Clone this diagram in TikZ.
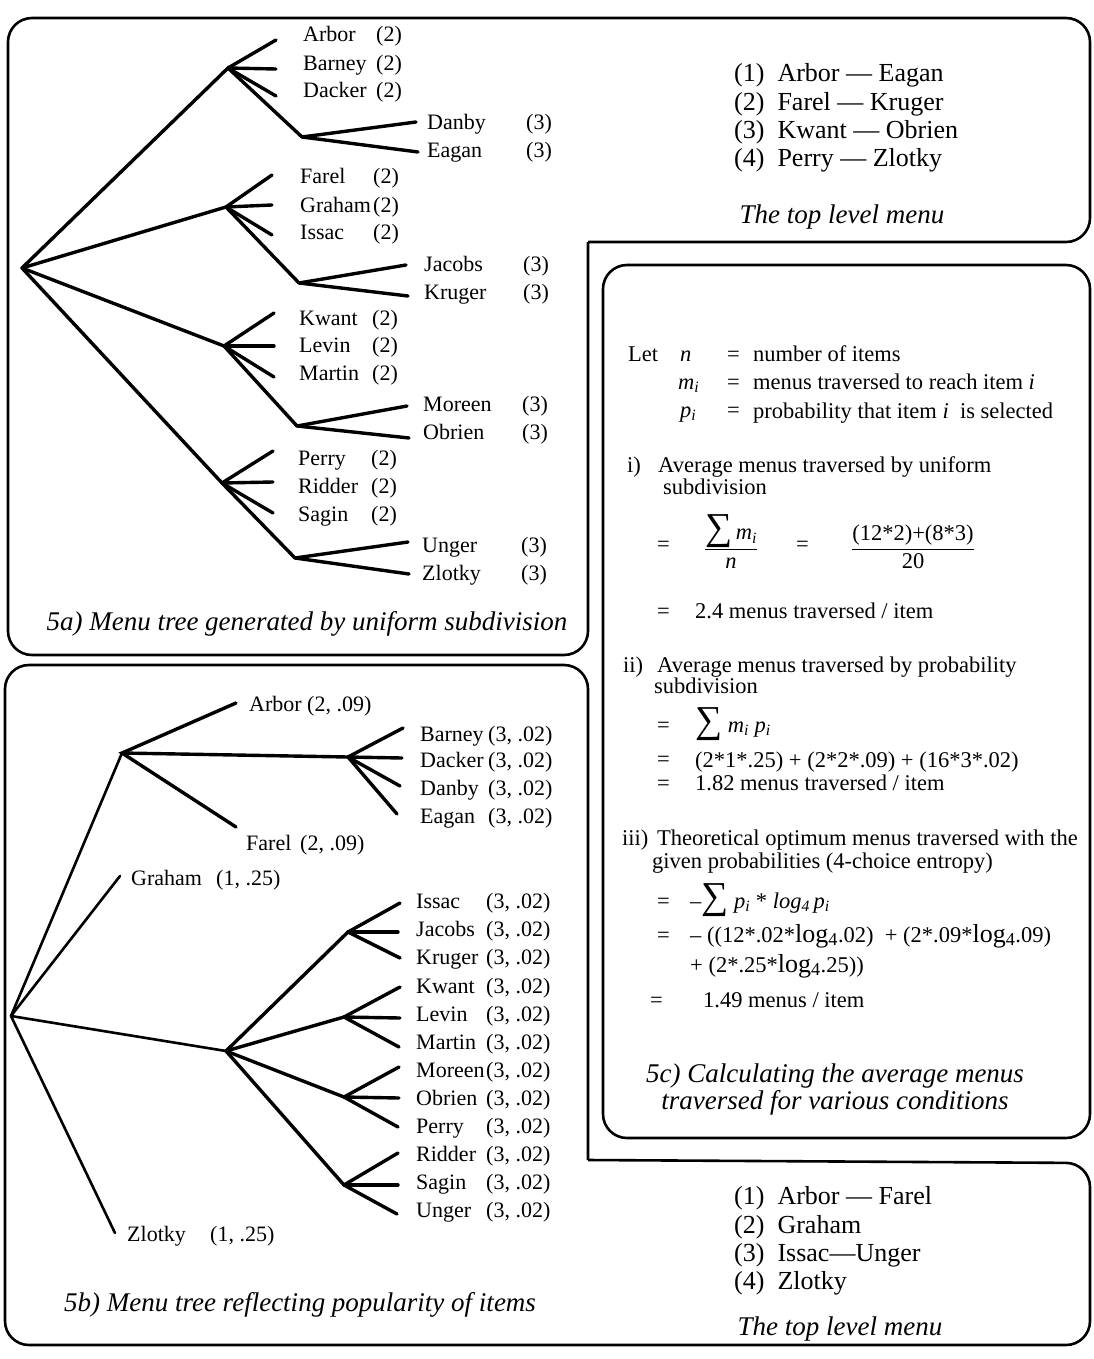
\documentclass[tikz,border=0pt]{standalone}
\usepackage{fontspec}
\setmainfont{Liberation Serif}
\usepackage{tikz}
\usetikzlibrary{positioning}
\newcommand{\vari}[2]{\textit{#1}\textsubscript{\textit{#2}}}
\newcommand{\logf}{{\fontsize{26}{26}\selectfont log\textsubscript{4}}}
\newcommand{\bigsum}{{\fontsize{38}{38}\selectfont ∑}}

\begin{document}
\begin{tikzpicture}[x=1pt, y=-1pt,
    frame/.style={line width=2.6pt, rounded corners=24pt},
    branch/.style={line width=3.4pt, line cap=round},
    limb/.style={line width=2.6pt, line cap=round},
    txt/.style={font=\fontsize{22.5}{26}\selectfont, inner sep=0pt},
    calc/.style={txt, anchor=west, text height=15pt, text depth=5pt},
    leaf/.style={calc, font=\fontsize{22}{26}\selectfont},
    menu/.style={font=\fontsize{26}{28.3}\selectfont, inner sep=0pt,
      anchor=west, align=left},
    caption/.style={font=\fontsize{27}{27}\selectfont\itshape,
      inner sep=0pt, align=center},
  ]
  \useasboundingbox (0,0) rectangle (1093,1359);

  % Frames
  \draw[frame] (588,242) -- (588,655) -- (8,655) -- (8,18) -- (1090,18)
    -- (1090,242) -- (588,242);
  \draw[frame] (588,1160) -- (588,665) -- (5,665) -- (5,1345) -- (1090,1345)
    -- (1090,1163) -- (588,1160);
  \draw[frame] (603,265) rectangle (1090,1138);

  % 5a: tree by uniform subdivision
  \coordinate (uni-root) at (22,268);
  \coordinate (uni-g1) at (228,68);
  \coordinate (uni-g2) at (226,207);
  \coordinate (uni-g3) at (224,346);
  \coordinate (uni-g4) at (222,483);
  \coordinate (uni-s1) at (302,137);
  \coordinate (uni-s2) at (299,283);
  \coordinate (uni-s3) at (297,426);
  \coordinate (uni-s4) at (295,558);
  \foreach \g in {1,...,4}
    \draw[branch] (uni-root) -- (uni-g\g) -- (uni-s\g);
  \foreach \n/\g/\x/\y in {arbor/1/276/40, barney/1/276/69, dacker/1/276/96,
      farel/2/272/175, graham/2/272/205, issac/2/272/235,
      kwant/3/274/313, levin/3/274/346, martin/3/274/377,
      perry/4/273/451, ridder/4/273/482, sagin/4/273/513} {
    \coordinate (uni-\n) at (\x,\y);
    \draw[branch] (uni-g\g) -- (uni-\n);
  }
  \foreach \n/\g/\x/\y in {danby/1/416/122, eagan/1/418/152,
      jacobs/2/406/265, kruger/2/408/296, moreen/3/407/406,
      obrien/3/409/438, unger/4/408/542, zlotky/4/409/574} {
    \coordinate (uni-\n) at (\x,\y);
    \draw[branch] (uni-s\g) -- (uni-\n);
  }
  \foreach \n/\lbl/\x/\y in {arbor/Arbor/303/37, barney/Barney/303/66,
      dacker/Dacker/303/93, farel/Farel/300/178, graham/Graham/300/207,
      issac/Issac/300/234, kwant/Kwant/299/320, levin/Levin/299/347,
      martin/Martin/299/375, perry/Perry/298/460, ridder/Ridder/298/488,
      sagin/Sagin/298/516}
    \node[leaf] (uni-\n-lbl) at (\x,\y) {\makebox[73pt][l]{\lbl}(2)};
  \foreach \n/\lbl/\x/\y in {danby/Danby/427/125, eagan/Eagan/427/153,
      jacobs/Jacobs/424/266, kruger/Kruger/424/294, moreen/Moreen/423/406,
      obrien/Obrien/423/434, unger/Unger/422/547, zlotky/Zlotky/422/575}
    \node[leaf] (uni-\n-lbl) at (\x,\y) {\makebox[99pt][l]{\lbl}(3)};
  \node[caption] (uni-cap) at (307,624)
    {5a) Menu tree generated by uniform subdivision};

  % Top level menu (uniform)
  \node[menu] (uni-menu) at (734,118) {(1)\ \ Arbor --- Eagan\\
    (2)\ \ Farel --- Kruger\\(3)\ \ Kwant --- Obrien\\(4)\ \ Perry --- Zlotky};
  \node[caption] (uni-menu-cap) at (842,217) {The top level menu};

  % 5b: tree reflecting popularity
  \coordinate (pop-root) at (11,1016);
  \coordinate (pop-b) at (122,753);
  \coordinate (pop-c) at (348,757);
  \coordinate (pop-d) at (226,1051);
  \coordinate (pop-e1) at (348,932);
  \coordinate (pop-e2) at (344,1017);
  \coordinate (pop-e3) at (344,1097);
  \coordinate (pop-e4) at (344,1185);
  \coordinate (pop-arbor) at (236,703);
  \coordinate (pop-farel) at (236,827);
  \coordinate (pop-graham) at (120,876);
  \coordinate (pop-zlotky) at (115,1233);
  \draw[limb] (pop-root) -- (pop-b);
  \draw[limb] (pop-root) -- (pop-graham);
  \draw[limb] (pop-root) -- (pop-d);
  \draw[limb] (pop-root) -- (pop-zlotky);
  \draw[branch] (pop-arbor) -- (pop-b) -- (pop-farel);
  \draw[branch] (pop-b) -- (pop-c);
  \foreach \e in {1,...,4}
    \draw[branch] (pop-d) -- (pop-e\e);
  \foreach \n/\g/\x/\y in {barney/c/403/728, dacker/c/402/758,
      danby/c/400/786, eagan/c/397/814,
      issac/e1/400/903, jacobs/e1/398/932, kruger/e1/400/958,
      kwant/e2/400/987, levin/e2/400/1018, martin/e2/399/1047,
      moreen/e3/399/1067, obrien/e3/399/1098, perry/e3/398/1127,
      ridder/e4/398/1153, sagin/e4/398/1185, unger/e4/397/1214} {
    \coordinate (pop-\n) at (\x,\y);
    \draw[branch] (pop-\g) -- (pop-\n);
  }
  \node[leaf] (pop-arbor-lbl) at (249,706) {Arbor (2, .09)};
  \node[leaf] (pop-farel-lbl) at (246,845) {\makebox[54pt][l]{Farel}(2, .09)};
  \node[leaf] (pop-graham-lbl) at (131,880) {\makebox[85pt][l]{Graham}(1, .25)};
  \node[leaf] (pop-zlotky-lbl) at (127,1236) {\makebox[83pt][l]{Zlotky}(1, .25)};
  \foreach \n/\lbl/\y in {barney/Barney/736, dacker/Dacker/762,
      danby/Danby/790, eagan/Eagan/818}
    \node[leaf] (pop-\n-lbl) at (420,\y) {\makebox[68pt][l]{\lbl}(3, .02)};
  \foreach \n/\lbl/\y in {issac/Issac/903, jacobs/Jacobs/931,
      kruger/Kruger/959, kwant/Kwant/988, levin/Levin/1016,
      martin/Martin/1044, moreen/Moreen/1072, obrien/Obrien/1100,
      perry/Perry/1128, ridder/Ridder/1156, sagin/Sagin/1184,
      unger/Unger/1212}
    \node[leaf] (pop-\n-lbl) at (416,\y) {\makebox[70pt][l]{\lbl}(3, .02)};
  \node[caption] (pop-cap) at (300,1305)
    {5b) Menu tree reflecting popularity of items};

  % Top level menu (popularity)
  \node[menu] (pop-menu) at (734,1241) {(1)\ \ Arbor --- Farel\\
    (2)\ \ Graham\\(3)\ \ Issac---Unger\\(4)\ \ Zlotky};
  \node[caption] (pop-menu-cap) at (840,1329) {The top level menu};

  % 5c: calculations
  \node[calc] (let) at (628,356) {Let};
  \node[calc] (var-n) at (680,356) {\textit{n}};
  \node[calc] (var-m) at (678,384) {\vari{m}{i}};
  \node[calc] (var-p) at (680,412) {\vari{p}{i}};
  \foreach \y in {356,384,412}
    \node[calc] (def-eq-\y) at (727,\y) {=};
  \node[calc] (def-n) at (753,356) {number of items};
  \node[calc] (def-m) at (753,384) {menus traversed to reach item \textit{i}};
  \node[calc] (def-p) at (753,413) {probability that item \textit{i}\ \ is selected};

  % i) uniform
  \node[calc] (case-i) at (627,467)
    {\makebox[31pt][l]{i)}Average menus traversed by uniform};
  \node[calc] (case-i-2) at (663,489) {subdivision};
  \node[calc] (eq-i1) at (657,546) {=};
  \node[txt] (frac-i1) at (731,542)
    {$\displaystyle\frac{\mbox{\bigsum\,\vari{m}{i}}}{\mbox{\textit{n}}\vphantom{1}}$};
  \node[calc] (eq-i2) at (796,546) {=};
  \node[txt] (frac-i2) at (913,547)
    {$\displaystyle\frac{\mbox{(12*2)+(8*3)}}{\mbox{20}}$};
  \node[calc] (eq-i3) at (657,613) {=};
  \node[calc] (res-i) at (695,613) {2.4 menus traversed / item};

  % ii) probability
  \node[calc] (case-ii) at (623,667)
    {\makebox[34pt][l]{ii)}Average menus traversed by probability};
  \node[calc] (case-ii-2) at (654,688) {subdivision};
  \node[calc] (eq-ii1) at (657,727) {=};
  \node[calc] (sum-ii) at (695,727) {\bigsum\ \vari{m}{i} \vari{p}{i}};
  \node[calc] (eq-ii2) at (657,761) {=};
  \node[calc] (exp-ii) at (695,762) {(2*1*.25) + (2*2*.09) + (16*3*.02)};
  \node[calc] (eq-ii3) at (657,785) {=};
  \node[calc] (res-ii) at (695,785) {1.82 menus traversed / item};

  % iii) entropy
  \node[calc] (case-iii) at (622,840)
    {\makebox[35pt][l]{iii)}Theoretical optimum menus traversed with the};
  \node[calc] (case-iii-2) at (652,863) {given probabilities (4-choice entropy)};
  \node[calc] (eq-iii1) at (657,903) {=};
  \node[calc] (sum-iii) at (690,903)
    {--\bigsum\ \vari{p}{i} * \textit{log}\textsubscript{\textit{4}}\,\vari{p}{i}};
  \node[calc] (eq-iii2) at (657,937) {=};
  \node[calc] (exp-iii) at (690,937)
    {-- ((12*.02*\logf.02)\ \ + (2*.09*\logf.09)};
  \node[calc] (exp-iii-2) at (690,967) {+ (2*.25*\logf.25))};
  \node[calc] (eq-iii3) at (650,1002) {=};
  \node[calc] (res-iii) at (703,1002) {1.49 menus / item};
  \node[caption] (calc-cap) at (835,1089)
    {5c) Calculating the average menus\\traversed for various conditions};
\end{tikzpicture}
\end{document}
